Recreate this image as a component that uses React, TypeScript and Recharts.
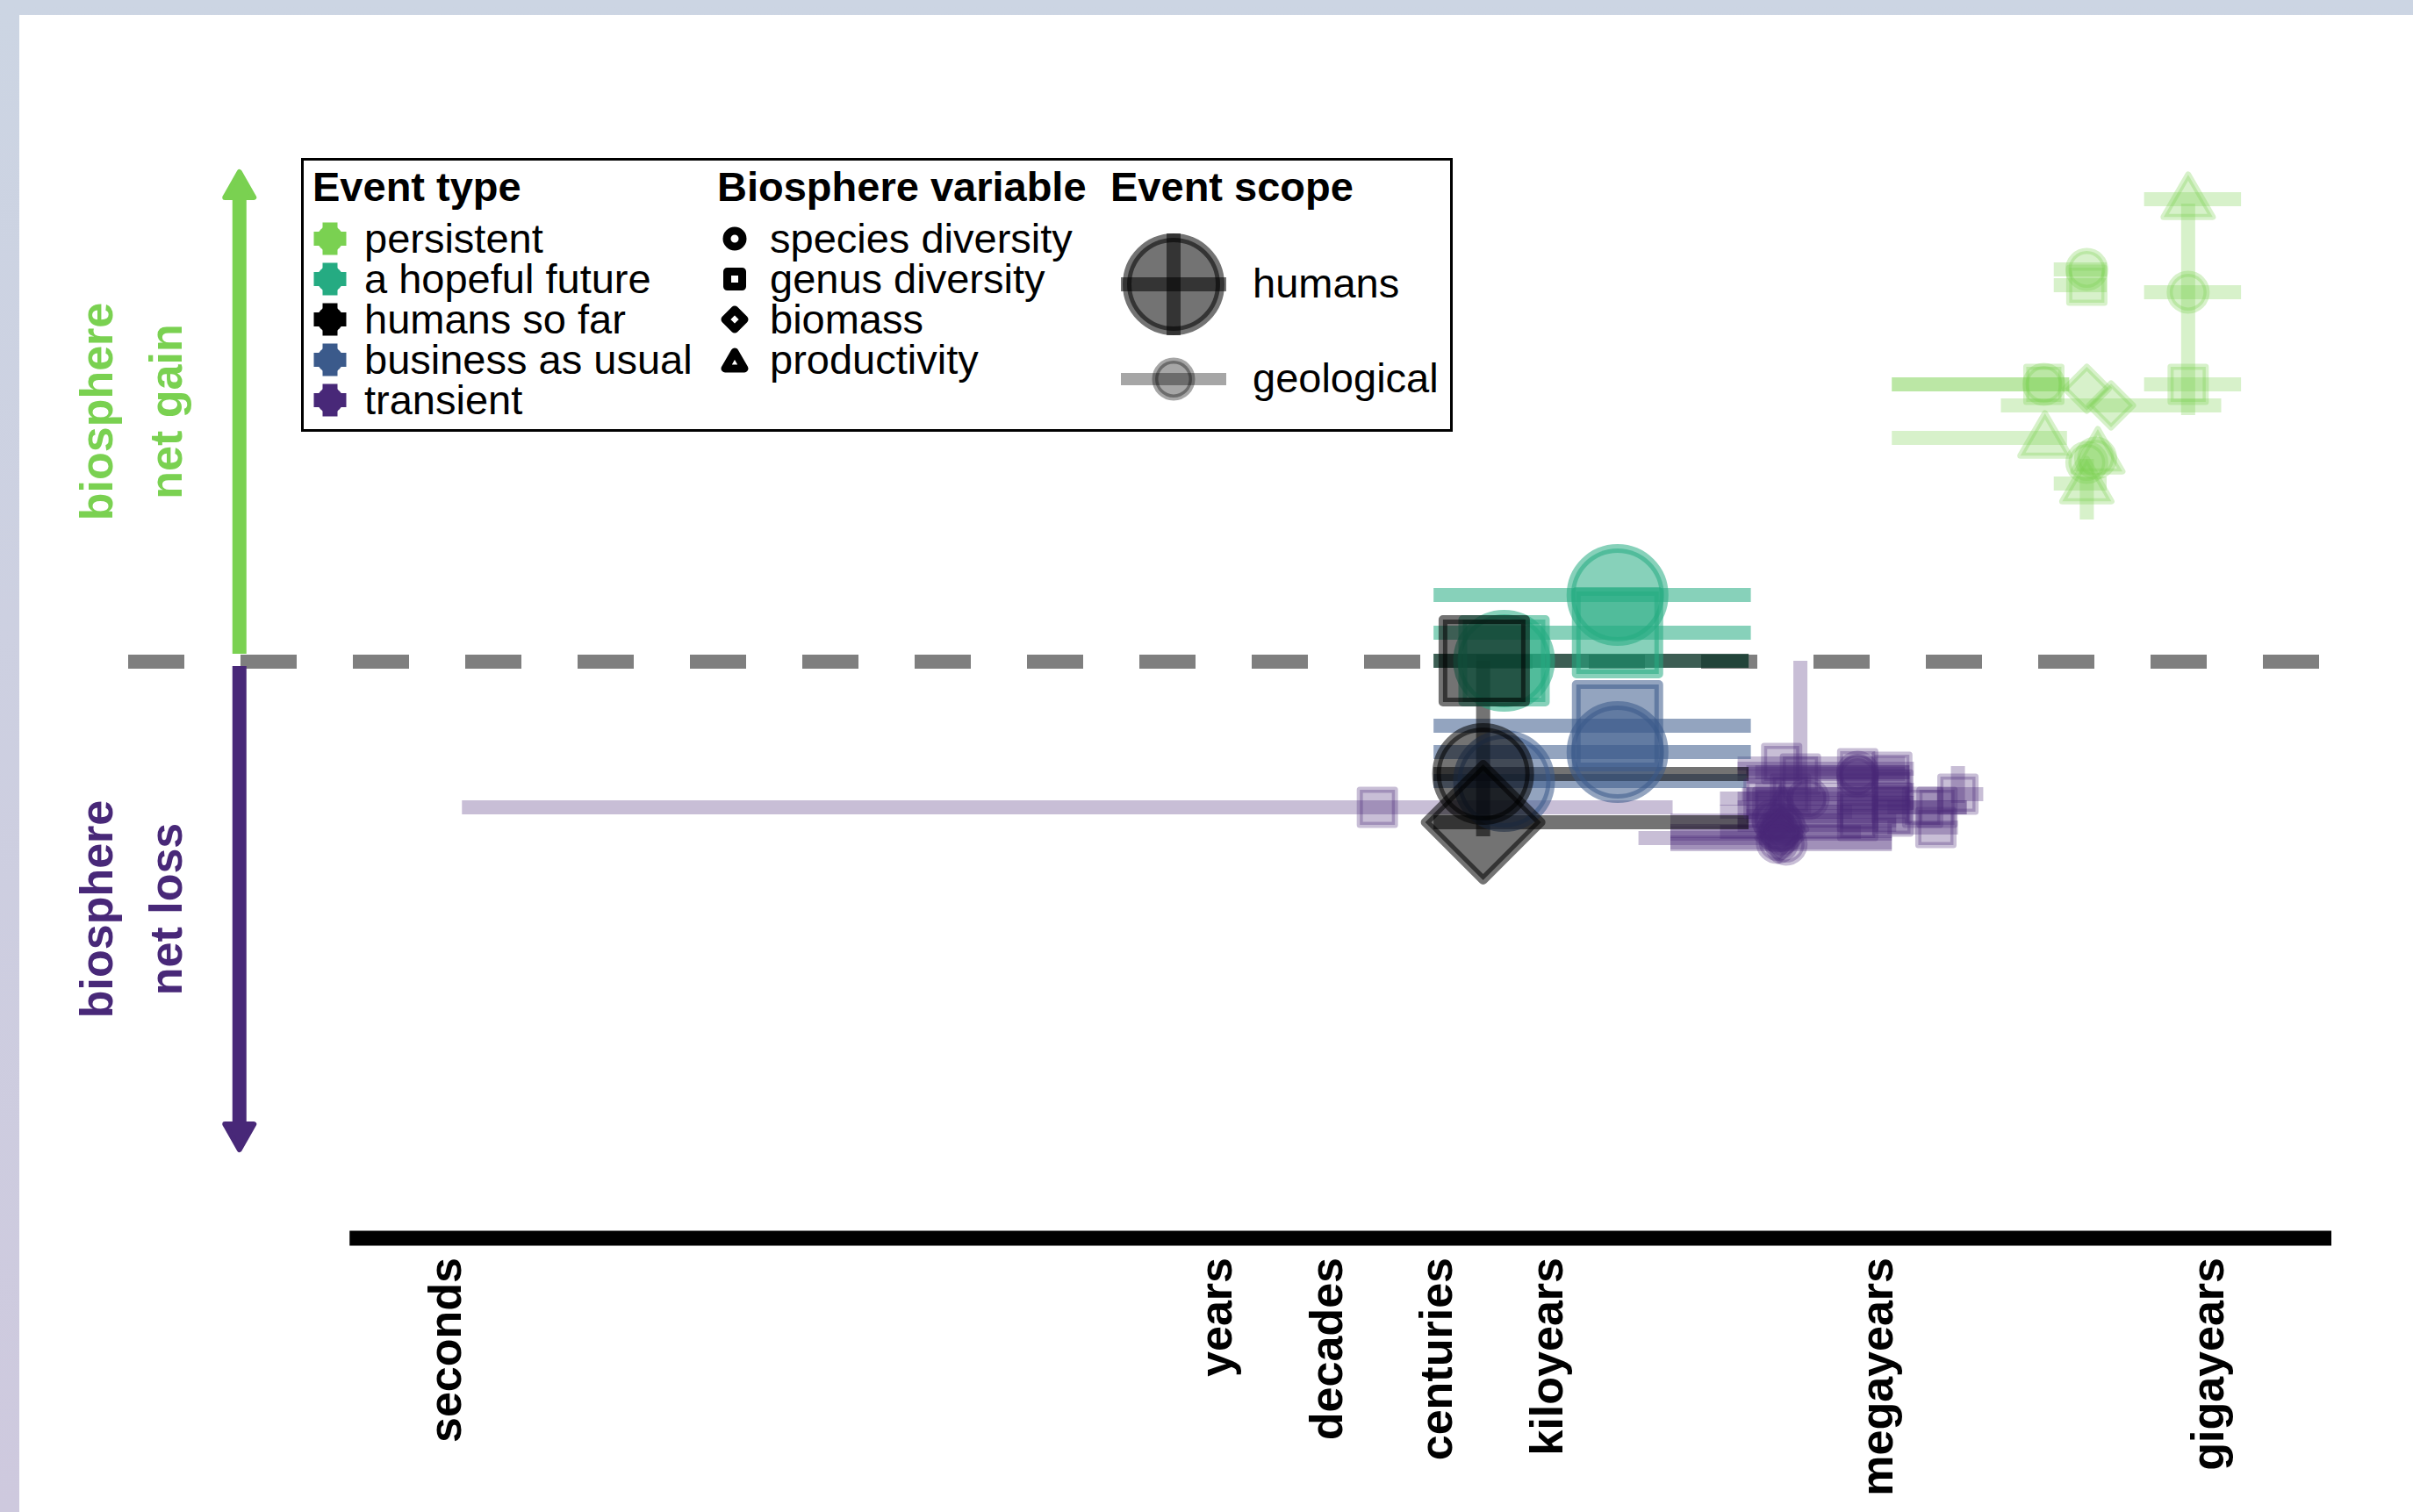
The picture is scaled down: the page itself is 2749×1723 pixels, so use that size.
import React from 'react';
import {
  ComposedChart,
  Scatter,
  XAxis,
  YAxis,
  ErrorBar,
  ReferenceLine,
  Legend,
} from 'recharts';

const FONT = '"Liberation Sans", Arial, Helvetica, sans-serif';

// x: log10 of the event duration in years, y: net change of the biosphere
const timeTicks = [-7, 0, 1, 2, 3, 6, 9];
const timeLabels = ['seconds', 'years', 'decades', 'centuries', 'kiloyears', 'megayears', 'gigayears'];

const eventTypes = ['persistent', 'a hopeful future', 'humans so far', 'business as usual', 'transient'];
const eventColors = ['#7ad151', '#25ab82', '#000000', '#3b5a8b', '#482878'];
const variableNames = ['species diversity', 'genus diversity', 'biomass', 'productivity'];
const variableShapes = ['circle', 'square', 'diamond', 'triangle'];
const scopeNames = ['humans', 'geological'];

type Pt = { v: string; x: number; y: number; xLo?: number; xHi?: number; yLo?: number; yHi?: number };

const persistent: Pt[] = [
  { v: 'triangle', x: 8.83, y: 5.27, xLo: 8.43, xHi: 9.31 },
  { v: 'circle', x: 8.83, y: 4.21, xLo: 8.43, xHi: 9.31, yLo: 2.81, yHi: 5.22 },
  { v: 'square', x: 8.83, y: 3.16, xLo: 8.43, xHi: 9.31 },
  { v: 'circle', x: 7.52, y: 3.16, xLo: 6.14, xHi: 7.75 },
  { v: 'square', x: 7.52, y: 3.16, xLo: 6.14, xHi: 7.75 },
  { v: 'diamond', x: 7.91, y: 3.11 },
  { v: 'diamond', x: 8.13, y: 2.92, xLo: 7.13, xHi: 9.13 },
  { v: 'triangle', x: 7.53, y: 2.55, xLo: 6.14, xHi: 7.73 },
  { v: 'triangle', x: 8.01, y: 2.37 },
  { v: 'circle', x: 7.99, y: 2.32 },
  { v: 'circle', x: 7.91, y: 2.27 },
  { v: 'triangle', x: 7.91, y: 2.03, xLo: 7.61, xHi: 8.09, yLo: 1.62, yHi: 2.31 },
  { v: 'circle', x: 7.91, y: 4.47, xLo: 7.61, xHi: 8.09 },
  { v: 'square', x: 7.91, y: 4.29, xLo: 7.61, xHi: 8.09 },
];

const hopefulFuture: Pt[] = [
  { v: 'circle', x: 3.65, y: 0.76, xLo: 1.98, xHi: 4.86 },
  { v: 'square', x: 3.65, y: 0.33, xLo: 1.98, xHi: 4.86 },
  { v: 'circle', x: 2.62, y: 0.01, xLo: 1.98, xHi: 4.84 },
  { v: 'square', x: 2.62, y: 0.01 },
];

const businessAsUsual: Pt[] = [
  { v: 'square', x: 3.65, y: -0.73, xLo: 1.98, xHi: 4.86 },
  { v: 'circle', x: 3.65, y: -1.03, xLo: 1.98, xHi: 4.86 },
  { v: 'circle', x: 2.62, y: -1.36, xLo: 1.98, xHi: 4.82 },
];

const humansSoFar: Pt[] = [
  { v: 'square', x: 2.44, y: 0.01, xLo: 1.98, xHi: 4.84 },
  { v: 'circle', x: 2.43, y: -1.28, xLo: 1.98, xHi: 4.84, yLo: -1.99, yHi: 0.01 },
  { v: 'diamond', x: 2.43, y: -1.83, xLo: 1.98, xHi: 4.84 },
];

const transient: Pt[] = [
  { v: 'square', x: 1.47, y: -1.66, xLo: -6.84, xHi: 4.15 },
  { v: 'square', x: 5.31, y: -1.28, xLo: 4.74, xHi: 6.26, yLo: -1.46, yHi: 0.01 },
  { v: 'circle', x: 5.83, y: -1.31, xLo: 4.82, xHi: 6.3 },
  { v: 'square', x: 5.83, y: -1.51, xLo: 4.78, xHi: 6.3 },
  { v: 'square', x: 6.15, y: -1.46, xLo: 4.9, xHi: 6.34 },
  { v: 'square', x: 6.15, y: -1.76, xLo: 4.82, xHi: 6.3 },
  { v: 'square', x: 5.83, y: -1.81, xLo: 4.74, xHi: 6.18 },
  { v: 'circle', x: 5.1, y: -1.93, xLo: 4.13, xHi: 6.14 },
  { v: 'circle', x: 5.06, y: -1.81, xLo: 4.13, xHi: 5.7 },
  { v: 'diamond', x: 5.12, y: -2.01, xLo: 3.84, xHi: 5.22 },
  { v: 'circle', x: 5.18, y: -2.08, xLo: 4.13, xHi: 6.14 },
  { v: 'square', x: 6.54, y: -1.89, xLo: 6.1, xHi: 6.74 },
  { v: 'square', x: 6.74, y: -1.51, xLo: 6.55, xHi: 6.97, yLo: -1.61, yHi: -1.19 },
  { v: 'square', x: 6.42, y: -1.66, xLo: 6.02, xHi: 6.82 },
  { v: 'triangle', x: 5.14, y: -1.71, xLo: 4.58, xHi: 5.78 },
  { v: 'square', x: 4.98, y: -1.56, xLo: 4.58, xHi: 5.54 },
  { v: 'circle', x: 5.38, y: -1.56, xLo: 4.74, xHi: 6.3 },
  { v: 'square', x: 5.14, y: -1.16, xLo: 4.74, xHi: 6.26 },
  { v: 'circle', x: 5.14, y: -1.96, xLo: 4.13, xHi: 6.14 },
  { v: 'square', x: 5.06, y: -1.66, xLo: 4.74, xHi: 6.3 },
  { v: 'square', x: 5.22, y: -1.51, xLo: 4.82, xHi: 6.3 },
  { v: 'circle', x: 5.16, y: -1.86, xLo: 4.74, xHi: 6.18 },
  { v: 'diamond', x: 5.14, y: -1.94, xLo: 4.58, xHi: 5.86 },
  { v: 'circle', x: 5.83, y: -1.26, xLo: 4.9, xHi: 6.3 },
  { v: 'square', x: 5.83, y: -1.71, xLo: 4.82, xHi: 6.26 },
  { v: 'square', x: 5.83, y: -1.22, xLo: 4.74, xHi: 6.34 },
  { v: 'square', x: 6.14, y: -1.26, xLo: 4.82, xHi: 6.3 },
  { v: 'square', x: 6.14, y: -1.61, xLo: 4.9, xHi: 6.34 },
  { v: 'square', x: 6.55, y: -1.66, xLo: 6.1, xHi: 6.82 },
  { v: 'circle', x: 5.1, y: -2.06, xLo: 4.13, xHi: 6.14 },
];

const withErrors = (pts: Pt[]) =>
  pts.map((p) => ({
    ...p,
    errX: [p.x - (p.xLo ?? p.x), (p.xHi ?? p.x) - p.x],
    errY: [p.y - (p.yLo ?? p.y), (p.yHi ?? p.y) - p.y],
  }));

const series = [
  { name: eventTypes[4], data: transient, color: eventColors[4], scope: 'geological' },
  { name: eventTypes[0], data: persistent, color: eventColors[0], scope: 'geological' },
  { name: eventTypes[1], data: hopefulFuture, color: eventColors[1], scope: 'humans' },
  { name: eventTypes[3], data: businessAsUsual, color: eventColors[3], scope: 'humans' },
  { name: eventTypes[2], data: humansSoFar, color: eventColors[2], scope: 'humans' },
];

const SCOPE_STYLE: Record<string, any> = {
  humans: { alpha: 0.55, sw: 10, r: 53, half: 47, d: 66, tri: 50 },
  geological: { alpha: 0.3, sw: 7, r: 21, half: 20, d: 25, tri: 28 },
};

function symbol(v: string, cx: number, cy: number, s: any, rest: any) {
  if (v === 'circle') return <circle cx={cx} cy={cy} r={s.r} {...rest} />;
  let d = '';
  if (v === 'square') {
    d = `M${cx - s.half},${cy - s.half}h${2 * s.half}v${2 * s.half}h${-2 * s.half}Z`;
  } else if (v === 'diamond') {
    d = `M${cx},${cy - s.d}L${cx + s.d},${cy}L${cx},${cy + s.d}L${cx - s.d},${cy}Z`;
  } else {
    d = `M${cx},${cy - s.tri}L${cx + s.tri},${cy + s.tri * 0.72}L${cx - s.tri},${cy + s.tri * 0.72}Z`;
  }
  return <path d={d} {...rest} />;
}

const Mark = (props: any) => {
  const { cx, cy, payload, color, scope } = props;
  if (cx == null || cy == null) return null;
  const s = SCOPE_STYLE[scope];
  return symbol(payload.v, cx, cy, s, {
    fill: color,
    fillOpacity: s.alpha,
    stroke: color,
    strokeOpacity: s.alpha,
    strokeWidth: s.sw,
    strokeLinejoin: 'round',
  });
};

const TimeTick = (props: any) => {
  const { x, y, payload } = props;
  const label = timeLabels[timeTicks.indexOf(payload.value)];
  const ty = y + 22;
  return (
    <text
      x={x}
      y={ty}
      transform={`rotate(-90, ${x}, ${ty})`}
      textAnchor="end"
      dy="0.36em"
      fontSize={52}
      fontWeight="bold"
      fontFamily={FONT}
      fill="#000"
    >
      {label}
    </text>
  );
};

const Arrow = (props: any) => {
  const { x1, y1, y2, color, labels } = props;
  const dir = y2 < y1 ? -1 : 1;
  const tip = y2 - dir * 3;
  const base = y2 - dir * 32;
  const mid = (y1 + y2) / 2;
  return (
    <g>
      <line x1={x1} y1={y1} x2={x1} y2={base + dir * 2} stroke={color} strokeWidth={16} />
      <path
        d={`M${x1},${tip}L${x1 + 16.5},${base}L${x1 - 16.5},${base}Z`}
        fill={color}
        stroke={color}
        strokeWidth={6}
        strokeLinejoin="round"
      />
      {labels.map((t: string, i: number) => {
        const lx = x1 - 163 + i * 79;
        return (
          <text
            key={t}
            x={lx}
            y={mid}
            transform={`rotate(-90, ${lx}, ${mid})`}
            textAnchor="middle"
            dy="0.36em"
            fontSize={52}
            fontWeight="bold"
            fontFamily={FONT}
            fill={color}
          >
            {t}
          </text>
        );
      })}
    </g>
  );
};

const TypeKey = ({ x, y, color }: any) => (
  <g fill={color}>
    <circle cx={x} cy={y} r={15} />
    <rect x={x - 8.5} y={y - 18.5} width={17} height={37} />
    <rect x={x - 18.5} y={y - 8} width={37} height={16} />
  </g>
);

const VarKey = ({ x, y, shape }: any) => {
  const s = { r: 9, half: 8.5, d: 11, tri: 11 };
  return symbol(shape, x, shape === 'triangle' ? y + 2 : y, s, {
    fill: '#fff',
    stroke: '#000',
    strokeWidth: 9,
    strokeLinejoin: 'round',
  });
};

const LegendBox = () => {
  const rows = [108, 154, 200, 246, 292];
  const title = { fontSize: 47, fontWeight: 'bold' as const, fontFamily: FONT };
  const item = { fontSize: 47, fontFamily: FONT };
  return (
    <svg width={1312} height={312} style={{ display: 'block' }}>
      <rect x={1.5} y={1.5} width={1309} height={309} fill="#fff" stroke="#000" strokeWidth={3} />
      <text x={13} y={49} {...title}>Event type</text>
      <text x={474} y={49} {...title}>Biosphere variable</text>
      <text x={922} y={49} {...title}>Event scope</text>
      {eventTypes.map((t, i) => (
        <g key={t}>
          <TypeKey x={33} y={rows[i] - 16} color={eventColors[i]} />
          <text x={72} y={rows[i]} {...item}>{t}</text>
        </g>
      ))}
      {variableNames.map((t, i) => (
        <g key={t}>
          <VarKey x={494} y={rows[i] - 16} shape={variableShapes[i]} />
          <text x={534} y={rows[i]} {...item}>{t}</text>
        </g>
      ))}
      <g>
        <circle cx={994} cy={144} r={53} fill="#000" fillOpacity={0.55} stroke="#000" strokeOpacity={0.55} strokeWidth={10} />
        <line x1={934} y1={144} x2={1054} y2={144} stroke="#000" strokeOpacity={0.55} strokeWidth={16} />
        <line x1={994} y1={86} x2={994} y2={202} stroke="#000" strokeOpacity={0.55} strokeWidth={16} />
        <text x={1084} y={159} {...item}>{scopeNames[0]}</text>
      </g>
      <g>
        <line x1={934} y1={252} x2={1054} y2={252} stroke="#000" strokeOpacity={0.35} strokeWidth={14} />
        <circle cx={994} cy={252} r={21} fill="#000" fillOpacity={0.35} stroke="#000" strokeOpacity={0.35} strokeWidth={7} />
        <text x={1084} y={267} {...item}>{scopeNames[1]}</text>
      </g>
    </svg>
  );
};

export default function App() {
  return (
    <div
      style={{
        position: 'absolute',
        left: 0,
        top: 0,
        width: 2749,
        height: 1723,
        overflow: 'hidden',
        background: 'linear-gradient(#ccd5e3, #cec9de)',
      }}
    >
      <div style={{ position: 'absolute', left: 22, top: 17, right: 0, bottom: 0, background: '#fff' }} />
      <div style={{ position: 'absolute', left: 0, top: 0 }}>
        <ComposedChart width={2749} height={1723} margin={{ top: 154, right: 93, bottom: 12, left: 146 }}>
          <XAxis
            dataKey="x"
            type="number"
            domain={[-9.87, 10.13]}
            ticks={timeTicks}
            interval={0}
            tick={(p: any) => <TimeTick {...p} />}
            tickLine={false}
            axisLine={false}
            tickSize={0}
            tickMargin={0}
            height={300}
            allowDataOverflow
          />
          <YAxis dataKey="y" type="number" domain={[-6.57, 6]} hide allowDataOverflow />
          <ReferenceLine y={0} stroke="#7f7f7f" strokeWidth={16} strokeDasharray="64 64" />
          <ReferenceLine
            segment={[{ x: -7.86, y: -6.57 }, { x: 10.13, y: -6.57 }]}
            stroke="#000"
            strokeWidth={17}
            ifOverflow="visible"
          />
          <ReferenceLine
            segment={[{ x: -8.86, y: 0.09 }, { x: -8.86, y: 5.61 }]}
            ifOverflow="visible"
            shape={(p: any) => <Arrow {...p} color={eventColors[0]} labels={['biosphere', 'net gain']} />}
          />
          <ReferenceLine
            segment={[{ x: -8.86, y: -0.05 }, { x: -8.86, y: -5.59 }]}
            ifOverflow="visible"
            shape={(p: any) => <Arrow {...p} color={eventColors[4]} labels={['biosphere', 'net loss']} />}
          />
          {series.map((s) => {
            const st = SCOPE_STYLE[s.scope];
            return (
              <Scatter
                key={s.name}
                name={s.name}
                data={withErrors(s.data)}
                isAnimationActive={false}
                shape={(p: any) => <Mark {...p} color={s.color} scope={s.scope} />}
              >
                <ErrorBar
                  dataKey="errX"
                  direction="x"
                  width={0}
                  stroke={s.color}
                  strokeOpacity={st.alpha}
                  strokeWidth={16}
                  isAnimationActive={false}
                />
                <ErrorBar
                  dataKey="errY"
                  direction="y"
                  width={0}
                  stroke={s.color}
                  strokeOpacity={st.alpha}
                  strokeWidth={16}
                  isAnimationActive={false}
                />
              </Scatter>
            );
          })}
          <Legend
            layout="vertical"
            verticalAlign="middle"
            align="center"
            wrapperStyle={{ left: 343, top: 180, width: 1312, height: 312 }}
            content={() => <LegendBox />}
          />
        </ComposedChart>
      </div>
    </div>
  );
}
